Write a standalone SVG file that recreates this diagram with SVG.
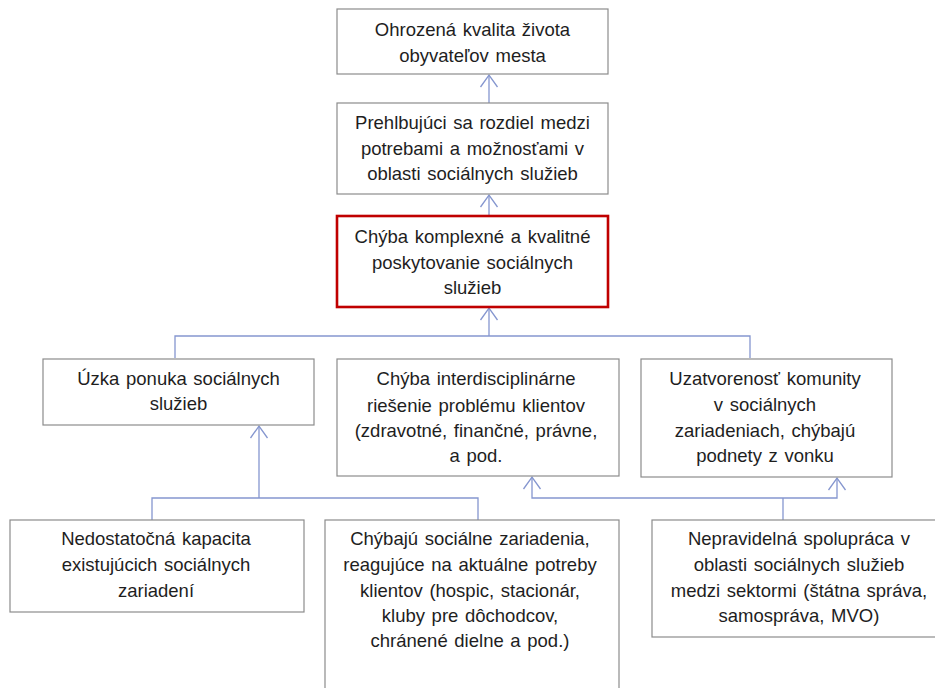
<svg xmlns="http://www.w3.org/2000/svg" width="935" height="688" viewBox="0 0 935 688">
<style>
.box{fill:#fff;stroke:#8c8c8c;stroke-width:1.2}
.red{fill:#fff;stroke:#c00000;stroke-width:2.6}
.t{font-family:"Liberation Sans",Arial,sans-serif;font-size:18.5px;word-spacing:1.5px;fill:#1e1e1e;text-anchor:middle}
.c{fill:none;stroke:#8596cf;stroke-width:1.3}
</style>
<rect width="935" height="688" fill="#fff"/>
<g id="connectors">
<path class="c" d="M489 103 V75"/>
<path class="c" d="M489 216 V195"/>
<path class="c" d="M489 336 V308"/>
<path class="c" d="M175 358 V336 H750 V358"/>
<path class="c" d="M152 520 V498 H478 V520"/>
<path class="c" d="M259 498 V426"/>
<path class="c" d="M783 520 V498"/>
<path class="c" d="M532 477 V498 H837 V478"/>
<path class="c" d="M480.5 87 L489 75 L497.5 87 M480.5 207 L489 195 L497.5 207 M480.5 320 L489 308 L497.5 320 M250.5 438 L259 426 L267.5 438 M523.5 489 L532 477 L540.5 489 M828.5 490 L837 478 L845.5 490"/>
</g>
<g id="n1">
<rect class="box" x="337" y="9" width="271" height="65"/>
<text class="t" x="472.5" y="36">Ohrozená kvalita života</text>
<text class="t" x="472.5" y="62">obyvateľov mesta</text>
</g>
<g id="n2">
<rect class="box" x="337" y="103" width="271" height="91"/>
<text class="t" x="472.5" y="129">Prehlbujúci sa rozdiel medzi</text>
<text class="t" x="472.5" y="155">potrebami a  možnosťami v</text>
<text class="t" x="472.5" y="180">oblasti sociálnych služieb</text>
</g>
<g id="n3">
<rect class="red" x="337" y="216" width="271" height="91"/>
<text class="t" x="472.5" y="243">Chýba komplexné a kvalitné</text>
<text class="t" x="472.5" y="269">poskytovanie sociálnych</text>
<text class="t" x="472.5" y="294">služieb</text>
</g>
<g id="n4">
<rect class="box" x="43" y="359" width="271" height="66"/>
<text class="t" x="178.5" y="385">Úzka ponuka sociálnych</text>
<text class="t" x="178.5" y="410">služieb</text>
</g>
<g id="n5">
<rect class="box" x="337" y="359" width="282" height="117"/>
<text class="t" x="476" y="385">Chýba interdisciplinárne</text>
<text class="t" x="476" y="412">riešenie  problému klientov</text>
<text class="t" x="476" y="437">(zdravotné,  finančné, právne,</text>
<text class="t" x="476" y="462">a pod.</text>
</g>
<g id="n6">
<rect class="box" x="641" y="359" width="251" height="118"/>
<text class="t" x="765" y="385">Uzatvorenosť  komunity</text>
<text class="t" x="765" y="411">v sociálnych</text>
<text class="t" x="765" y="437">zariadeniach,  chýbajú</text>
<text class="t" x="765" y="462">podnety z vonku</text>
</g>
<g id="n7">
<rect class="box" x="10" y="520" width="294" height="92"/>
<text class="t" x="156" y="545">Nedostatočná kapacita</text>
<text class="t" x="156" y="571">existujúcich sociálnych</text>
<text class="t" x="156" y="597">zariadení</text>
</g>
<g id="n8">
<rect class="box" x="325" y="520" width="294" height="180"/>
<text class="t" x="470" y="545">Chýbajú sociálne zariadenia,</text>
<text class="t" x="470" y="571">reagujúce na aktuálne potreby</text>
<text class="t" x="470" y="597">klientov (hospic, stacionár,</text>
<text class="t" x="470" y="622">kluby pre dôchodcov,</text>
<text class="t" x="470" y="647">chránené  dielne a pod.)</text>
</g>
<g id="n9">
<rect class="box" x="652" y="520" width="292" height="117"/>
<text class="t" x="799" y="545">Nepravidelná  spolupráca  v</text>
<text class="t" x="799" y="571">oblasti sociálnych služieb</text>
<text class="t" x="799" y="597">medzi sektormi (štátna správa,</text>
<text class="t" x="799" y="622">samospráva, MVO)</text>
</g>
</svg>
